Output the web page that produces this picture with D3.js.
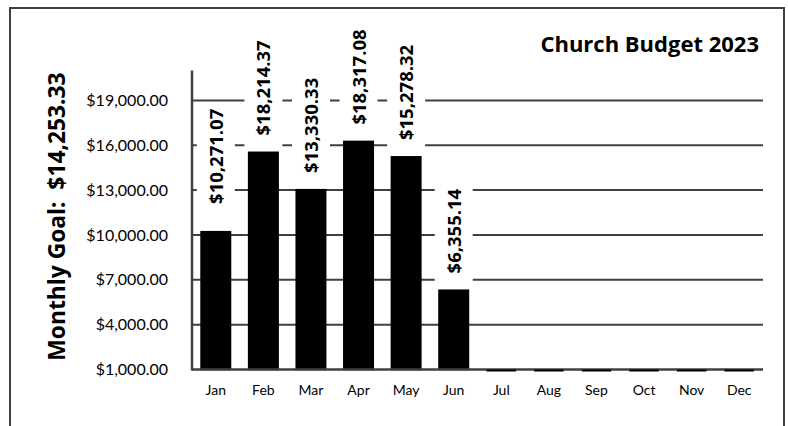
<!DOCTYPE html>
<html><head><meta charset="utf-8">
<script src="https://cdn.jsdelivr.net/npm/d3@7"></script>
<style>
html,body{margin:0;padding:0;background:#fff;}
svg{display:block;}
text{white-space:pre;}
</style></head>
<body>
<svg id="chart" width="788" height="426"></svg>
<script>
// ---- data ----
const months = ["Jan","Feb","Mar","Apr","May","Jun","Jul","Aug","Sep","Oct","Nov","Dec"];
const barValues = [10271.07, 15580, 13080, 16310, 15278.32, 6355.14, 0, 0, 0, 0, 0, 0];
const barLabels = ["$10,271.07","$18,214.37","$13,330.33","$18,317.08","$15,278.32","$6,355.14","","","","","",""];
const yTicks = [1000, 4000, 7000, 10000, 13000, 16000, 19000];
const chartTitle = "Church Budget 2023";
const axisTitle = "Monthly Goal:  $14,253.33";

// ---- layout ----
const plot = {left: 192, right: 763, top: 70.5, bottom: 369.5};
const labelGap = 16;
const labelExtra = [11, 0, 0, 0, 0, 0, 0, 0, 0, 0, 0, 0];
const lineColor = "#404040";
const boldFont = "'Open Sans', Lato, sans-serif";
const plainFont = "Lato, 'Open Sans', sans-serif";

const svg = d3.select("#chart");

// frame
svg.append("rect").attr("x", 10).attr("y", 8).attr("width", 774).attr("height", 440)
  .attr("fill", "none").attr("stroke", lineColor).attr("stroke-width", 2);

const x = d3.scaleBand().domain(months).range([plot.left, plot.right])
  .paddingInner(0.38).paddingOuter(0.19);
const y = d3.scaleLinear().domain([1000, 21000]).range([plot.bottom, plot.top]).clamp(true);

// gridlines
svg.append("g").selectAll("line").data(yTicks.filter(t => t > 1000)).join("line")
  .attr("x1", plot.left).attr("x2", plot.right)
  .attr("y1", d => y(d)).attr("y2", d => y(d))
  .attr("stroke", lineColor).attr("stroke-width", 2);

// bars
svg.append("g").selectAll("rect").data(months).join("rect")
  .attr("x", d => x(d)).attr("width", x.bandwidth())
  .attr("y", (d, i) => y(barValues[i]))
  .attr("height", (d, i) => Math.max(y(1000) - y(barValues[i]), 0))
  .attr("fill", "#000").attr("stroke", "#000").attr("stroke-width", 1.5);

// data labels with white boxes
const lg = svg.append("g");
months.forEach((m, i) => {
  if (!barLabels[i]) return;
  const cx = x(m) + x.bandwidth() / 2;
  const top = y(barValues[i]);
  const start = top - labelGap - labelExtra[i];
  const box = lg.append("rect").attr("fill", "#fff");
  const t = lg.append("text")
    .attr("transform", `translate(${cx + 7},${start}) rotate(-90)`)
    .attr("font-family", boldFont)
    .attr("font-weight", "bold").attr("font-size", 18.5)
    .attr("fill", "#000")
    .text(barLabels[i]);
  const len = t.node().getComputedTextLength();
  box.attr("x", cx - 19).attr("width", 38)
    .attr("y", start - len - 4).attr("height", top - (start - len - 4));
});

// axes lines
svg.append("line").attr("x1", plot.left).attr("x2", plot.left)
  .attr("y1", plot.top).attr("y2", plot.bottom + 1)
  .attr("stroke", lineColor).attr("stroke-width", 2.5);
svg.append("line").attr("x1", plot.left).attr("x2", plot.right)
  .attr("y1", plot.bottom).attr("y2", plot.bottom)
  .attr("stroke", lineColor).attr("stroke-width", 2.5);

// empty-month bars sit on the baseline
svg.append("g").selectAll("rect").data(months.filter((m, i) => barValues[i] <= 1000)).join("rect")
  .attr("x", d => x(d)).attr("width", x.bandwidth())
  .attr("y", plot.bottom).attr("height", 2)
  .attr("fill", "#000");

// y axis labels
const yAxis = d3.axisLeft(y).tickValues(yTicks).tickSize(0).tickPadding(0)
  .tickFormat(d => "$" + d3.format(",.2f")(d));
const ya = svg.append("g").attr("transform", `translate(${plot.left - 24},0)`).call(yAxis);
ya.select(".domain").remove();
ya.selectAll("text").attr("font-family", plainFont)
  .attr("font-size", 16).attr("fill", "#000");

// x axis labels
const xAxis = d3.axisBottom(x).tickSize(0).tickPadding(0);
const xa = svg.append("g").attr("transform", `translate(0,${plot.bottom + 16})`).call(xAxis);
xa.select(".domain").remove();
xa.selectAll("text").attr("font-family", plainFont)
  .attr("font-size", 14).attr("fill", "#000");

// chart title
svg.append("text").attr("x", 759).attr("y", 52).attr("text-anchor", "end")
  .attr("font-family", boldFont).attr("font-weight", "bold")
  .attr("font-size", 22).attr("fill", "#000").text(chartTitle);

// y axis title
svg.append("text").attr("transform", "translate(65,216.5) rotate(-90)")
  .attr("text-anchor", "middle")
  .attr("font-family", boldFont).attr("font-weight", "bold")
  .attr("font-size", 22.8).attr("fill", "#000").text(axisTitle);
</script>
</body></html>
